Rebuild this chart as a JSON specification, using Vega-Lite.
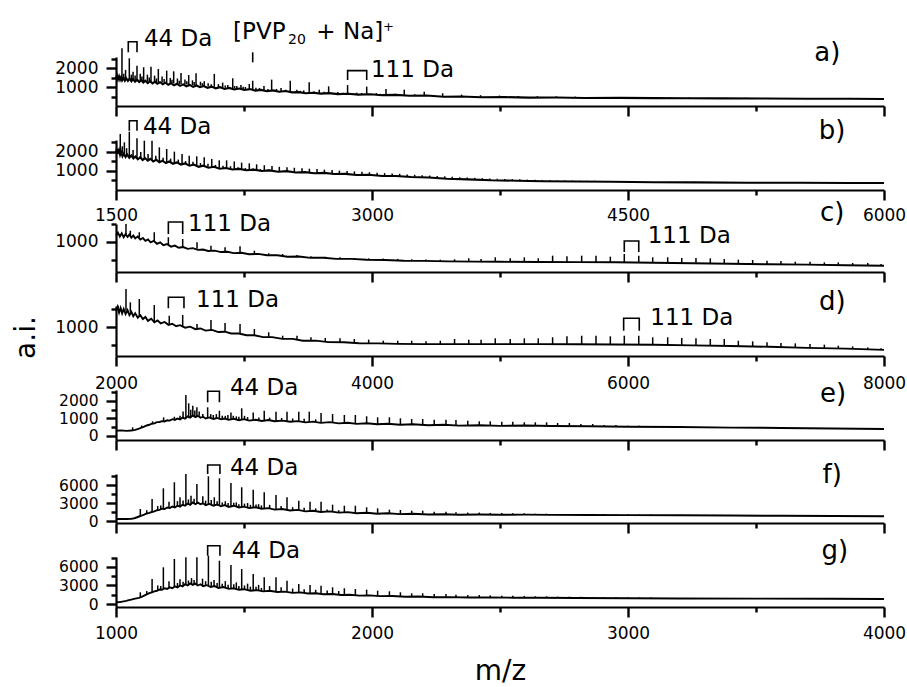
{
"$schema": "https://vega.github.io/schema/vega-lite/v6.json",
"padding": {"left": 12, "top": 20, "right": 0, "bottom": 0},
"background": "white",
"spacing": 34,
"bounds": "flush",
"config": {
  "view": {"stroke": null},
  "axis": {"domainColor": "black", "domainWidth": 2.2, "tickColor": "black", "tickWidth": 2.4, "labelColor": "black", "labelFont": "DejaVu Sans", "labelFontSize": 17, "grid": false, "titleFont": "DejaVu Sans", "titleFontWeight": "normal", "titleColor": "black", "labelOverlap": false, "labelFlush": false, "labelBound": false, "format": "d"},
  "text": {"font": "DejaVu Sans", "color": "black"}
},
"datasets": {
"base": [
{"p":"a","m":1500,"i":1480},{"p":"a","m":1506,"i":1600},{"p":"a","m":1512,"i":1400},{"p":"a","m":1518,"i":1560},{"p":"a","m":1524,"i":1380},{"p":"a","m":1530,"i":1520},{"p":"a","m":1536,"i":1350},{"p":"a","m":1544,"i":1480},{"p":"a","m":1552,"i":1330},{"p":"a","m":1560,"i":1460},{"p":"a","m":1570,"i":1320},{"p":"a","m":1580,"i":1440},{"p":"a","m":1590,"i":1300},{"p":"a","m":1600,"i":1410},{"p":"a","m":1612,"i":1280},{"p":"a","m":1624,"i":1380},{"p":"a","m":1636,"i":1260},{"p":"a","m":1648,"i":1360},{"p":"a","m":1660,"i":1240},{"p":"a","m":1672,"i":1330},{"p":"a","m":1686,"i":1210},{"p":"a","m":1700,"i":1310},{"p":"a","m":1714,"i":1190},{"p":"a","m":1728,"i":1280},{"p":"a","m":1742,"i":1170},{"p":"a","m":1758,"i":1250},{"p":"a","m":1774,"i":1150},{"p":"a","m":1790,"i":1230},{"p":"a","m":1806,"i":1120},{"p":"a","m":1822,"i":1200},{"p":"a","m":1840,"i":1090},{"p":"a","m":1858,"i":1170},{"p":"a","m":1876,"i":1060},{"p":"a","m":1894,"i":1140},{"p":"a","m":1912,"i":1040},{"p":"a","m":1932,"i":1110},{"p":"a","m":1952,"i":1010},{"p":"a","m":1972,"i":1080},{"p":"a","m":1992,"i":990},{"p":"a","m":2014,"i":1050},{"p":"a","m":2036,"i":960},{"p":"a","m":2060,"i":1020},{"p":"a","m":2084,"i":930},{"p":"a","m":2110,"i":990},{"p":"a","m":2136,"i":900},{"p":"a","m":2164,"i":950},{"p":"a","m":2192,"i":870},{"p":"a","m":2222,"i":920},{"p":"a","m":2252,"i":840},{"p":"a","m":2284,"i":890},{"p":"a","m":2316,"i":810},{"p":"a","m":2350,"i":850},{"p":"a","m":2384,"i":780},{"p":"a","m":2420,"i":820},{"p":"a","m":2456,"i":750},{"p":"a","m":2494,"i":790},{"p":"a","m":2532,"i":720},{"p":"a","m":2572,"i":730},{"p":"a","m":2612,"i":670},{"p":"a","m":2654,"i":700},{"p":"a","m":2700,"i":650},{"p":"a","m":2750,"i":680},{"p":"a","m":2800,"i":625},{"p":"a","m":2860,"i":645},{"p":"a","m":2920,"i":600},{"p":"a","m":2990,"i":615},{"p":"a","m":3060,"i":570},{"p":"a","m":3140,"i":585},{"p":"a","m":3220,"i":540},{"p":"a","m":3320,"i":550},{"p":"a","m":3420,"i":490},{"p":"a","m":3520,"i":500},{"p":"a","m":3640,"i":460},{"p":"a","m":3780,"i":470},{"p":"a","m":3920,"i":440},{"p":"a","m":4080,"i":445},{"p":"a","m":4250,"i":425},{"p":"a","m":4450,"i":430},{"p":"a","m":4650,"i":415},{"p":"a","m":4850,"i":410},{"p":"a","m":5050,"i":400},{"p":"a","m":5300,"i":395},{"p":"a","m":5550,"i":385},{"p":"a","m":5800,"i":378},{"p":"a","m":6000,"i":370},

{"p":"b","m":1500,"i":2000},{"p":"b","m":1506,"i":2180},{"p":"b","m":1512,"i":1900},{"p":"b","m":1518,"i":2080},{"p":"b","m":1524,"i":1850},{"p":"b","m":1530,"i":2000},{"p":"b","m":1538,"i":1780},{"p":"b","m":1546,"i":1920},{"p":"b","m":1556,"i":1740},{"p":"b","m":1566,"i":1860},{"p":"b","m":1578,"i":1700},{"p":"b","m":1590,"i":1820},{"p":"b","m":1602,"i":1660},{"p":"b","m":1614,"i":1760},{"p":"b","m":1628,"i":1620},{"p":"b","m":1642,"i":1720},{"p":"b","m":1656,"i":1580},{"p":"b","m":1670,"i":1680},{"p":"b","m":1686,"i":1540},{"p":"b","m":1702,"i":1640},{"p":"b","m":1718,"i":1500},{"p":"b","m":1736,"i":1590},{"p":"b","m":1754,"i":1460},{"p":"b","m":1772,"i":1540},{"p":"b","m":1792,"i":1420},{"p":"b","m":1812,"i":1500},{"p":"b","m":1834,"i":1380},{"p":"b","m":1856,"i":1450},{"p":"b","m":1880,"i":1340},{"p":"b","m":1904,"i":1400},{"p":"b","m":1930,"i":1280},{"p":"b","m":1956,"i":1340},{"p":"b","m":1984,"i":1220},{"p":"b","m":2012,"i":1280},{"p":"b","m":2042,"i":1170},{"p":"b","m":2074,"i":1220},{"p":"b","m":2108,"i":1120},{"p":"b","m":2144,"i":1160},{"p":"b","m":2182,"i":1080},{"p":"b","m":2222,"i":1110},{"p":"b","m":2264,"i":1040},{"p":"b","m":2308,"i":1070},{"p":"b","m":2354,"i":1000},{"p":"b","m":2400,"i":1030},{"p":"b","m":2450,"i":960},{"p":"b","m":2500,"i":990},{"p":"b","m":2552,"i":920},{"p":"b","m":2606,"i":940},{"p":"b","m":2662,"i":880},{"p":"b","m":2720,"i":900},{"p":"b","m":2780,"i":840},{"p":"b","m":2844,"i":850},{"p":"b","m":2910,"i":790},{"p":"b","m":2980,"i":800},{"p":"b","m":3060,"i":740},{"p":"b","m":3140,"i":740},{"p":"b","m":3230,"i":680},{"p":"b","m":3330,"i":660},{"p":"b","m":3440,"i":590},{"p":"b","m":3560,"i":560},{"p":"b","m":3700,"i":510},{"p":"b","m":3850,"i":490},{"p":"b","m":4000,"i":460},{"p":"b","m":4200,"i":445},{"p":"b","m":4400,"i":430},{"p":"b","m":4650,"i":410},{"p":"b","m":4900,"i":400},{"p":"b","m":5200,"i":385},{"p":"b","m":5500,"i":378},{"p":"b","m":5800,"i":372},{"p":"b","m":6000,"i":368},

{"p":"c","m":2000,"i":1180},{"p":"c","m":2015,"i":1260},{"p":"c","m":2030,"i":1150},{"p":"c","m":2045,"i":1240},{"p":"c","m":2060,"i":1130},{"p":"c","m":2075,"i":1220},{"p":"c","m":2090,"i":1140},{"p":"c","m":2105,"i":1210},{"p":"c","m":2120,"i":1120},{"p":"c","m":2135,"i":1180},{"p":"c","m":2150,"i":1100},{"p":"c","m":2170,"i":1150},{"p":"c","m":2190,"i":1070},{"p":"c","m":2210,"i":1110},{"p":"c","m":2230,"i":1030},{"p":"c","m":2250,"i":1070},{"p":"c","m":2270,"i":990},{"p":"c","m":2295,"i":1030},{"p":"c","m":2320,"i":950},{"p":"c","m":2345,"i":990},{"p":"c","m":2370,"i":910},{"p":"c","m":2400,"i":940},{"p":"c","m":2430,"i":870},{"p":"c","m":2460,"i":900},{"p":"c","m":2490,"i":840},{"p":"c","m":2525,"i":860},{"p":"c","m":2560,"i":810},{"p":"c","m":2600,"i":830},{"p":"c","m":2640,"i":780},{"p":"c","m":2680,"i":790},{"p":"c","m":2720,"i":750},{"p":"c","m":2770,"i":760},{"p":"c","m":2820,"i":720},{"p":"c","m":2870,"i":730},{"p":"c","m":2920,"i":690},{"p":"c","m":2980,"i":700},{"p":"c","m":3040,"i":660},{"p":"c","m":3110,"i":670},{"p":"c","m":3180,"i":630},{"p":"c","m":3260,"i":630},{"p":"c","m":3340,"i":590},{"p":"c","m":3430,"i":595},{"p":"c","m":3520,"i":560},{"p":"c","m":3620,"i":560},{"p":"c","m":3720,"i":530},{"p":"c","m":3840,"i":530},{"p":"c","m":3960,"i":505},{"p":"c","m":4100,"i":500},{"p":"c","m":4250,"i":480},{"p":"c","m":4400,"i":475},{"p":"c","m":4600,"i":460},{"p":"c","m":4800,"i":455},{"p":"c","m":5000,"i":450},{"p":"c","m":5300,"i":445},{"p":"c","m":5600,"i":440},{"p":"c","m":5900,"i":435},{"p":"c","m":6200,"i":425},{"p":"c","m":6500,"i":410},{"p":"c","m":6800,"i":395},{"p":"c","m":7100,"i":380},{"p":"c","m":7400,"i":370},{"p":"c","m":7700,"i":355},{"p":"c","m":8000,"i":340},

{"p":"d","m":2000,"i":1450},{"p":"d","m":2012,"i":1560},{"p":"d","m":2024,"i":1400},{"p":"d","m":2036,"i":1530},{"p":"d","m":2048,"i":1380},{"p":"d","m":2060,"i":1500},{"p":"d","m":2075,"i":1360},{"p":"d","m":2090,"i":1470},{"p":"d","m":2105,"i":1330},{"p":"d","m":2120,"i":1420},{"p":"d","m":2135,"i":1300},{"p":"d","m":2150,"i":1380},{"p":"d","m":2170,"i":1260},{"p":"d","m":2190,"i":1330},{"p":"d","m":2210,"i":1220},{"p":"d","m":2230,"i":1280},{"p":"d","m":2250,"i":1170},{"p":"d","m":2275,"i":1230},{"p":"d","m":2300,"i":1130},{"p":"d","m":2325,"i":1180},{"p":"d","m":2350,"i":1100},{"p":"d","m":2380,"i":1140},{"p":"d","m":2410,"i":1060},{"p":"d","m":2440,"i":1090},{"p":"d","m":2470,"i":1020},{"p":"d","m":2500,"i":1050},{"p":"d","m":2540,"i":980},{"p":"d","m":2580,"i":1010},{"p":"d","m":2620,"i":940},{"p":"d","m":2660,"i":960},{"p":"d","m":2700,"i":900},{"p":"d","m":2750,"i":920},{"p":"d","m":2800,"i":860},{"p":"d","m":2850,"i":870},{"p":"d","m":2900,"i":820},{"p":"d","m":2960,"i":820},{"p":"d","m":3020,"i":770},{"p":"d","m":3080,"i":770},{"p":"d","m":3150,"i":720},{"p":"d","m":3220,"i":720},{"p":"d","m":3300,"i":670},{"p":"d","m":3380,"i":670},{"p":"d","m":3460,"i":620},{"p":"d","m":3560,"i":620},{"p":"d","m":3660,"i":580},{"p":"d","m":3780,"i":575},{"p":"d","m":3900,"i":550},{"p":"d","m":4050,"i":545},{"p":"d","m":4200,"i":530},{"p":"d","m":4400,"i":525},{"p":"d","m":4600,"i":525},{"p":"d","m":4800,"i":525},{"p":"d","m":5000,"i":525},{"p":"d","m":5300,"i":525},{"p":"d","m":5600,"i":520},{"p":"d","m":5900,"i":515},{"p":"d","m":6200,"i":505},{"p":"d","m":6500,"i":490},{"p":"d","m":6800,"i":470},{"p":"d","m":7100,"i":450},{"p":"d","m":7400,"i":420},{"p":"d","m":7700,"i":400},{"p":"d","m":8000,"i":365},

{"p":"e","m":1000,"i":300},{"p":"e","m":1020,"i":320},{"p":"e","m":1040,"i":295},{"p":"e","m":1060,"i":310},{"p":"e","m":1075,"i":350},{"p":"e","m":1090,"i":420},{"p":"e","m":1100,"i":480},{"p":"e","m":1110,"i":530},{"p":"e","m":1120,"i":600},{"p":"e","m":1130,"i":640},{"p":"e","m":1140,"i":700},{"p":"e","m":1150,"i":720},{"p":"e","m":1160,"i":790},{"p":"e","m":1170,"i":800},{"p":"e","m":1180,"i":850},{"p":"e","m":1190,"i":830},{"p":"e","m":1200,"i":900},{"p":"e","m":1210,"i":880},{"p":"e","m":1220,"i":960},{"p":"e","m":1230,"i":920},{"p":"e","m":1240,"i":1000},{"p":"e","m":1250,"i":950},{"p":"e","m":1260,"i":1050},{"p":"e","m":1270,"i":990},{"p":"e","m":1280,"i":1120},{"p":"e","m":1290,"i":1050},{"p":"e","m":1300,"i":1180},{"p":"e","m":1310,"i":1080},{"p":"e","m":1320,"i":1150},{"p":"e","m":1330,"i":1040},{"p":"e","m":1340,"i":1100},{"p":"e","m":1350,"i":1000},{"p":"e","m":1365,"i":1060},{"p":"e","m":1380,"i":970},{"p":"e","m":1395,"i":1030},{"p":"e","m":1410,"i":950},{"p":"e","m":1425,"i":1000},{"p":"e","m":1440,"i":920},{"p":"e","m":1460,"i":980},{"p":"e","m":1480,"i":900},{"p":"e","m":1500,"i":960},{"p":"e","m":1520,"i":880},{"p":"e","m":1545,"i":930},{"p":"e","m":1570,"i":860},{"p":"e","m":1595,"i":910},{"p":"e","m":1620,"i":840},{"p":"e","m":1650,"i":880},{"p":"e","m":1680,"i":810},{"p":"e","m":1710,"i":850},{"p":"e","m":1740,"i":780},{"p":"e","m":1770,"i":820},{"p":"e","m":1800,"i":750},{"p":"e","m":1835,"i":790},{"p":"e","m":1870,"i":720},{"p":"e","m":1905,"i":760},{"p":"e","m":1940,"i":690},{"p":"e","m":1980,"i":730},{"p":"e","m":2020,"i":670},{"p":"e","m":2060,"i":700},{"p":"e","m":2110,"i":640},{"p":"e","m":2160,"i":670},{"p":"e","m":2220,"i":610},{"p":"e","m":2280,"i":640},{"p":"e","m":2340,"i":590},{"p":"e","m":2420,"i":610},{"p":"e","m":2500,"i":580},{"p":"e","m":2600,"i":595},{"p":"e","m":2700,"i":570},{"p":"e","m":2850,"i":560},{"p":"e","m":3000,"i":530},{"p":"e","m":3200,"i":510},{"p":"e","m":3400,"i":480},{"p":"e","m":3600,"i":460},{"p":"e","m":3800,"i":430},{"p":"e","m":4000,"i":400},

{"p":"f","m":1000,"i":330},{"p":"f","m":1020,"i":350},{"p":"f","m":1040,"i":330},{"p":"f","m":1060,"i":350},{"p":"f","m":1075,"i":500},{"p":"f","m":1090,"i":750},{"p":"f","m":1100,"i":900},{"p":"f","m":1110,"i":1050},{"p":"f","m":1120,"i":1250},{"p":"f","m":1130,"i":1350},{"p":"f","m":1140,"i":1500},{"p":"f","m":1150,"i":1600},{"p":"f","m":1160,"i":1800},{"p":"f","m":1170,"i":1850},{"p":"f","m":1180,"i":2050},{"p":"f","m":1190,"i":2000},{"p":"f","m":1200,"i":2250},{"p":"f","m":1210,"i":2150},{"p":"f","m":1220,"i":2400},{"p":"f","m":1230,"i":2250},{"p":"f","m":1240,"i":2550},{"p":"f","m":1250,"i":2400},{"p":"f","m":1260,"i":2700},{"p":"f","m":1270,"i":2550},{"p":"f","m":1280,"i":2900},{"p":"f","m":1290,"i":2700},{"p":"f","m":1300,"i":3100},{"p":"f","m":1310,"i":2800},{"p":"f","m":1320,"i":3050},{"p":"f","m":1330,"i":2800},{"p":"f","m":1340,"i":2950},{"p":"f","m":1350,"i":2650},{"p":"f","m":1365,"i":2850},{"p":"f","m":1380,"i":2550},{"p":"f","m":1395,"i":2750},{"p":"f","m":1410,"i":2450},{"p":"f","m":1425,"i":2650},{"p":"f","m":1440,"i":2350},{"p":"f","m":1460,"i":2550},{"p":"f","m":1480,"i":2250},{"p":"f","m":1500,"i":2400},{"p":"f","m":1520,"i":2150},{"p":"f","m":1545,"i":2300},{"p":"f","m":1570,"i":2050},{"p":"f","m":1595,"i":2150},{"p":"f","m":1620,"i":1900},{"p":"f","m":1650,"i":2000},{"p":"f","m":1680,"i":1750},{"p":"f","m":1710,"i":1850},{"p":"f","m":1740,"i":1600},{"p":"f","m":1770,"i":1700},{"p":"f","m":1800,"i":1500},{"p":"f","m":1835,"i":1600},{"p":"f","m":1870,"i":1400},{"p":"f","m":1905,"i":1480},{"p":"f","m":1940,"i":1300},{"p":"f","m":1980,"i":1380},{"p":"f","m":2020,"i":1220},{"p":"f","m":2060,"i":1280},{"p":"f","m":2110,"i":1150},{"p":"f","m":2160,"i":1200},{"p":"f","m":2220,"i":1080},{"p":"f","m":2280,"i":1120},{"p":"f","m":2340,"i":1050},{"p":"f","m":2420,"i":1080},{"p":"f","m":2500,"i":1040},{"p":"f","m":2600,"i":1060},{"p":"f","m":2700,"i":1020},{"p":"f","m":2850,"i":1010},{"p":"f","m":3000,"i":980},{"p":"f","m":3200,"i":950},{"p":"f","m":3400,"i":910},{"p":"f","m":3600,"i":870},{"p":"f","m":3800,"i":830},{"p":"f","m":4000,"i":790},

{"p":"g","m":1000,"i":280},{"p":"g","m":1015,"i":300},{"p":"g","m":1030,"i":420},{"p":"g","m":1040,"i":500},{"p":"g","m":1050,"i":620},{"p":"g","m":1060,"i":720},{"p":"g","m":1070,"i":820},{"p":"g","m":1080,"i":920},{"p":"g","m":1090,"i":1000},{"p":"g","m":1100,"i":1150},{"p":"g","m":1110,"i":1350},{"p":"g","m":1120,"i":1550},{"p":"g","m":1130,"i":1750},{"p":"g","m":1140,"i":1900},{"p":"g","m":1150,"i":2050},{"p":"g","m":1160,"i":2150},{"p":"g","m":1170,"i":2350},{"p":"g","m":1180,"i":2300},{"p":"g","m":1190,"i":2550},{"p":"g","m":1200,"i":2450},{"p":"g","m":1210,"i":2700},{"p":"g","m":1220,"i":2550},{"p":"g","m":1230,"i":2850},{"p":"g","m":1240,"i":2700},{"p":"g","m":1250,"i":3000},{"p":"g","m":1260,"i":2850},{"p":"g","m":1270,"i":3200},{"p":"g","m":1280,"i":3000},{"p":"g","m":1290,"i":3350},{"p":"g","m":1300,"i":3100},{"p":"g","m":1310,"i":3300},{"p":"g","m":1320,"i":3000},{"p":"g","m":1330,"i":3200},{"p":"g","m":1340,"i":2900},{"p":"g","m":1355,"i":3050},{"p":"g","m":1370,"i":2750},{"p":"g","m":1385,"i":2900},{"p":"g","m":1400,"i":2600},{"p":"g","m":1420,"i":2750},{"p":"g","m":1440,"i":2450},{"p":"g","m":1460,"i":2550},{"p":"g","m":1480,"i":2300},{"p":"g","m":1500,"i":2400},{"p":"g","m":1525,"i":2150},{"p":"g","m":1550,"i":2250},{"p":"g","m":1575,"i":2050},{"p":"g","m":1600,"i":2150},{"p":"g","m":1630,"i":1950},{"p":"g","m":1660,"i":2000},{"p":"g","m":1690,"i":1800},{"p":"g","m":1720,"i":1880},{"p":"g","m":1750,"i":1700},{"p":"g","m":1780,"i":1750},{"p":"g","m":1810,"i":1580},{"p":"g","m":1845,"i":1620},{"p":"g","m":1880,"i":1460},{"p":"g","m":1915,"i":1500},{"p":"g","m":1950,"i":1350},{"p":"g","m":1990,"i":1400},{"p":"g","m":2030,"i":1270},{"p":"g","m":2080,"i":1300},{"p":"g","m":2130,"i":1180},{"p":"g","m":2180,"i":1210},{"p":"g","m":2240,"i":1100},{"p":"g","m":2300,"i":1120},{"p":"g","m":2380,"i":1060},{"p":"g","m":2460,"i":1080},{"p":"g","m":2550,"i":1020},{"p":"g","m":2650,"i":1010},{"p":"g","m":2800,"i":970},{"p":"g","m":3000,"i":930},{"p":"g","m":3200,"i":900},{"p":"g","m":3500,"i":870},{"p":"g","m":3800,"i":840},{"p":"g","m":4000,"i":810}
],
"peaks": [
{"p":"a","m":1535,"b":1420,"t":3040},{"p":"a","m":1556,"b":1400,"t":1900},{"p":"a","m":1578,"b":1380,"t":2510},{"p":"a","m":1600,"b":1370,"t":1800},{"p":"a","m":1623,"b":1340,"t":2120},{"p":"a","m":1642,"b":1330,"t":1700},{"p":"a","m":1662,"b":1310,"t":2040},{"p":"a","m":1684,"b":1290,"t":1650},{"p":"a","m":1705,"b":1290,"t":2070},{"p":"a","m":1726,"b":1270,"t":1600},{"p":"a","m":1748,"b":1250,"t":1950},{"p":"a","m":1770,"b":1240,"t":1550},{"p":"a","m":1797,"b":1220,"t":1860},{"p":"a","m":1818,"b":1200,"t":1480},{"p":"a","m":1838,"b":1190,"t":1825},{"p":"a","m":1860,"b":1170,"t":1450},{"p":"a","m":1881,"b":1160,"t":1740},{"p":"a","m":1904,"b":1140,"t":1400},{"p":"a","m":1926,"b":1120,"t":1630},{"p":"a","m":1948,"b":1100,"t":1350},{"p":"a","m":1969,"b":1090,"t":1720},{"p":"a","m":1995,"b":1070,"t":1280},{"p":"a","m":2017,"b":1050,"t":1300},{"p":"a","m":2040,"b":1040,"t":1200},{"p":"a","m":2076,"b":1010,"t":1690},{"p":"a","m":2100,"b":990,"t":1150},{"p":"a","m":2125,"b":970,"t":1230},{"p":"a","m":2155,"b":950,"t":1100},{"p":"a","m":2184,"b":930,"t":1460},{"p":"a","m":2208,"b":910,"t":1050},{"p":"a","m":2232,"b":900,"t":1100},{"p":"a","m":2258,"b":880,"t":1000},{"p":"a","m":2281,"b":860,"t":1160},{"p":"a","m":2301,"b":850,"t":1330},{"p":"a","m":2340,"b":830,"t":950},{"p":"a","m":2367,"b":810,"t":1050},{"p":"a","m":2412,"b":790,"t":1390},{"p":"a","m":2440,"b":770,"t":900},{"p":"a","m":2467,"b":760,"t":950},{"p":"a","m":2521,"b":730,"t":1330},{"p":"a","m":2560,"b":720,"t":850},{"p":"a","m":2600,"b":700,"t":820},{"p":"a","m":2632,"b":690,"t":1250},{"p":"a","m":2660,"b":680,"t":780},{"p":"a","m":2691,"b":670,"t":860},{"p":"a","m":2746,"b":650,"t":1035},{"p":"a","m":2800,"b":640,"t":740},{"p":"a","m":2857,"b":630,"t":1100},{"p":"a","m":2910,"b":620,"t":700},{"p":"a","m":2969,"b":610,"t":1020},{"p":"a","m":3025,"b":590,"t":680},{"p":"a","m":3082,"b":580,"t":895},{"p":"a","m":3135,"b":570,"t":650},{"p":"a","m":3189,"b":560,"t":860},{"p":"a","m":3250,"b":545,"t":620},{"p":"a","m":3306,"b":530,"t":750},{"p":"a","m":3360,"b":515,"t":580},{"p":"a","m":3414,"b":500,"t":670},{"p":"a","m":3525,"b":480,"t":600},{"p":"a","m":3636,"b":465,"t":570},{"p":"a","m":3747,"b":455,"t":550},{"p":"a","m":3858,"b":448,"t":530},{"p":"a","m":3969,"b":442,"t":520},{"p":"a","m":4080,"b":440,"t":505},{"p":"a","m":4191,"b":435,"t":495},{"p":"a","m":4302,"b":430,"t":480},{"p":"a","m":4413,"b":428,"t":475},{"p":"a","m":4524,"b":425,"t":468},{"p":"a","m":4635,"b":418,"t":460},{"p":"a","m":4746,"b":415,"t":455},{"p":"a","m":4857,"b":412,"t":448},{"p":"a","m":4968,"b":408,"t":440},{"p":"a","m":5079,"b":404,"t":436},{"p":"a","m":5190,"b":400,"t":430},{"p":"a","m":5301,"b":396,"t":425},{"p":"a","m":5412,"b":392,"t":420},
{"p":"a","m":1545,"b":1400,"t":1700},{"p":"a","m":1590,"b":1360,"t":1650},{"p":"a","m":1612,"b":1350,"t":1600},{"p":"a","m":1652,"b":1320,"t":1550},{"p":"a","m":1695,"b":1290,"t":1500},{"p":"a","m":1737,"b":1260,"t":1450},{"p":"a","m":1782,"b":1230,"t":1420},{"p":"a","m":1828,"b":1195,"t":1380},{"p":"a","m":1871,"b":1165,"t":1330},{"p":"a","m":1915,"b":1130,"t":1300},{"p":"a","m":1958,"b":1095,"t":1270},{"p":"a","m":2006,"b":1060,"t":1200},{"p":"a","m":2058,"b":1025,"t":1150},{"p":"a","m":2140,"b":960,"t":1080},{"p":"a","m":2195,"b":920,"t":1050},{"p":"a","m":2245,"b":890,"t":1010},{"p":"a","m":2320,"b":840,"t":960},{"p":"a","m":2390,"b":800,"t":900},{"p":"a","m":2495,"b":745,"t":850},{"p":"a","m":2580,"b":710,"t":800},{"p":"a","m":2720,"b":660,"t":750},{"p":"a","m":2830,"b":635,"t":700},{"p":"a","m":2940,"b":615,"t":680},{"p":"a","m":3050,"b":585,"t":640},

{"p":"b","m":1525,"b":2000,"t":2946},{"p":"b","m":1549,"b":1900,"t":2507},{"p":"b","m":1578,"b":1760,"t":3067},{"p":"b","m":1623,"b":1690,"t":2718},{"p":"b","m":1666,"b":1630,"t":2595},{"p":"b","m":1711,"b":1570,"t":2595},{"p":"b","m":1754,"b":1500,"t":2244},{"p":"b","m":1797,"b":1460,"t":2157},{"p":"b","m":1842,"b":1420,"t":2016},{"p":"b","m":1887,"b":1380,"t":1894},{"p":"b","m":1929,"b":1320,"t":1806},{"p":"b","m":1973,"b":1290,"t":1771},{"p":"b","m":2017,"b":1250,"t":1718},{"p":"b","m":2061,"b":1200,"t":1631},{"p":"b","m":2105,"b":1160,"t":1560},{"p":"b","m":2148,"b":1130,"t":1560},{"p":"b","m":2193,"b":1100,"t":1500},{"p":"b","m":2236,"b":1080,"t":1440},{"p":"b","m":2281,"b":1060,"t":1400},{"p":"b","m":2324,"b":1040,"t":1350},{"p":"b","m":2369,"b":1020,"t":1300},{"p":"b","m":2414,"b":1000,"t":1260},{"p":"b","m":2457,"b":980,"t":1220},{"p":"b","m":2502,"b":970,"t":1200},{"p":"b","m":2545,"b":950,"t":1170},{"p":"b","m":2590,"b":935,"t":1150},{"p":"b","m":2633,"b":920,"t":1120},{"p":"b","m":2678,"b":900,"t":1100},{"p":"b","m":2721,"b":885,"t":1070},{"p":"b","m":2766,"b":870,"t":1050},{"p":"b","m":2809,"b":855,"t":1020},{"p":"b","m":2854,"b":840,"t":1000},{"p":"b","m":2897,"b":825,"t":980},{"p":"b","m":2941,"b":810,"t":960},{"p":"b","m":2985,"b":795,"t":930},{"p":"b","m":3030,"b":780,"t":910},{"p":"b","m":3074,"b":765,"t":890},{"p":"b","m":3118,"b":750,"t":870},{"p":"b","m":3162,"b":735,"t":850},{"p":"b","m":3206,"b":720,"t":820},{"p":"b","m":3250,"b":700,"t":800},{"p":"b","m":3294,"b":690,"t":780},{"p":"b","m":3338,"b":670,"t":760},{"p":"b","m":3382,"b":655,"t":740},{"p":"b","m":3426,"b":640,"t":720},{"p":"b","m":3470,"b":620,"t":700},{"p":"b","m":3514,"b":600,"t":670},{"p":"b","m":3558,"b":590,"t":655},{"p":"b","m":3602,"b":575,"t":640},{"p":"b","m":3646,"b":560,"t":620},{"p":"b","m":3690,"b":550,"t":610},{"p":"b","m":3734,"b":540,"t":595},{"p":"b","m":3778,"b":530,"t":585},{"p":"b","m":3822,"b":520,"t":570},{"p":"b","m":3866,"b":510,"t":560},{"p":"b","m":3910,"b":500,"t":545},{"p":"b","m":3954,"b":490,"t":535},{"p":"b","m":3998,"b":480,"t":525},{"p":"b","m":4042,"b":475,"t":515},{"p":"b","m":4086,"b":470,"t":505},{"p":"b","m":4130,"b":465,"t":500},{"p":"b","m":4174,"b":460,"t":495},{"p":"b","m":4218,"b":455,"t":490},{"p":"b","m":4262,"b":450,"t":485},{"p":"b","m":4306,"b":448,"t":480},
{"p":"b","m":1537,"b":1950,"t":2300},{"p":"b","m":1562,"b":1850,"t":2200},{"p":"b","m":1600,"b":1720,"t":2100},{"p":"b","m":1645,"b":1660,"t":2000},{"p":"b","m":1688,"b":1600,"t":1900},{"p":"b","m":1733,"b":1540,"t":1800},{"p":"b","m":1776,"b":1480,"t":1700},{"p":"b","m":1820,"b":1440,"t":1650},{"p":"b","m":1865,"b":1400,"t":1600},{"p":"b","m":1908,"b":1350,"t":1520},{"p":"b","m":1951,"b":1305,"t":1480},{"p":"b","m":1995,"b":1270,"t":1420},{"p":"b","m":2039,"b":1225,"t":1380},{"p":"b","m":2083,"b":1180,"t":1320},{"p":"b","m":2127,"b":1145,"t":1280},{"p":"b","m":2171,"b":1115,"t":1250},{"p":"b","m":2215,"b":1090,"t":1200},{"p":"b","m":2258,"b":1070,"t":1160},{"p":"b","m":2303,"b":1050,"t":1130},{"p":"b","m":2346,"b":1030,"t":1100},{"p":"b","m":2391,"b":1010,"t":1080},

{"p":"c","m":2078,"b":1180,"t":1500},{"p":"c","m":2112,"b":1170,"t":1314},{"p":"c","m":2182,"b":1130,"t":1270},{"p":"c","m":2299,"b":1010,"t":1270},{"p":"c","m":2409,"b":925,"t":1131},{"p":"c","m":2521,"b":860,"t":1084},{"p":"c","m":2633,"b":815,"t":992},{"p":"c","m":2742,"b":770,"t":897},{"p":"c","m":2852,"b":740,"t":853},{"p":"c","m":2969,"b":705,"t":880},{"p":"c","m":3081,"b":670,"t":758},{"p":"c","m":3193,"b":640,"t":686},{"p":"c","m":3302,"b":615,"t":666},{"p":"c","m":3414,"b":590,"t":639},{"p":"c","m":3523,"b":565,"t":602},{"p":"c","m":3635,"b":555,"t":590},{"p":"c","m":3750,"b":535,"t":575},{"p":"c","m":3862,"b":525,"t":555},{"p":"c","m":3974,"b":510,"t":545},{"p":"c","m":4088,"b":500,"t":540},{"p":"c","m":4201,"b":490,"t":530},{"p":"c","m":4310,"b":482,"t":520},{"p":"c","m":4422,"b":478,"t":512},{"p":"c","m":4534,"b":472,"t":508},{"p":"c","m":4645,"b":462,"t":520},{"p":"c","m":4756,"b":460,"t":547},{"p":"c","m":4852,"b":458,"t":527},{"p":"c","m":4963,"b":455,"t":574},{"p":"c","m":5080,"b":452,"t":547},{"p":"c","m":5190,"b":450,"t":574},{"p":"c","m":5299,"b":447,"t":547},{"p":"c","m":5411,"b":445,"t":620},{"p":"c","m":5523,"b":443,"t":602},{"p":"c","m":5638,"b":441,"t":620},{"p":"c","m":5750,"b":440,"t":620},{"p":"c","m":5862,"b":438,"t":592},{"p":"c","m":5971,"b":436,"t":666},{"p":"c","m":6084,"b":432,"t":620},{"p":"c","m":6193,"b":428,"t":574},{"p":"c","m":6310,"b":423,"t":574},{"p":"c","m":6420,"b":418,"t":556},{"p":"c","m":6531,"b":413,"t":555},{"p":"c","m":6643,"b":408,"t":547},{"p":"c","m":6752,"b":402,"t":527},{"p":"c","m":6862,"b":397,"t":509},{"p":"c","m":6974,"b":392,"t":500},{"p":"c","m":7086,"b":388,"t":480},{"p":"c","m":7195,"b":384,"t":472},{"p":"c","m":7307,"b":379,"t":452},{"p":"c","m":7422,"b":375,"t":452},{"p":"c","m":7534,"b":370,"t":434},{"p":"c","m":7643,"b":365,"t":434},{"p":"c","m":7755,"b":360,"t":416},{"p":"c","m":7873,"b":350,"t":416},{"p":"c","m":7977,"b":342,"t":388},

{"p":"d","m":2018,"b":1500,"t":1592},{"p":"d","m":2078,"b":1450,"t":2057},{"p":"d","m":2112,"b":1420,"t":1687},{"p":"d","m":2182,"b":1300,"t":1779},{"p":"d","m":2299,"b":1150,"t":1612},{"p":"d","m":2416,"b":1070,"t":1314},{"p":"d","m":2521,"b":1030,"t":1334},{"p":"d","m":2633,"b":950,"t":1084},{"p":"d","m":2742,"b":900,"t":1195},{"p":"d","m":2852,"b":860,"t":1111},{"p":"d","m":2969,"b":810,"t":1084},{"p":"d","m":3081,"b":765,"t":945},{"p":"d","m":3193,"b":725,"t":853},{"p":"d","m":3302,"b":690,"t":758},{"p":"d","m":3414,"b":650,"t":758},{"p":"d","m":3523,"b":615,"t":714},{"p":"d","m":3635,"b":595,"t":695},{"p":"d","m":3750,"b":575,"t":686},{"p":"d","m":3862,"b":560,"t":667},{"p":"d","m":3974,"b":550,"t":649},{"p":"d","m":4088,"b":545,"t":619},{"p":"d","m":4201,"b":535,"t":619},{"p":"d","m":4310,"b":528,"t":619},{"p":"d","m":4422,"b":525,"t":602},{"p":"d","m":4534,"b":525,"t":619},{"p":"d","m":4645,"b":525,"t":667},{"p":"d","m":4756,"b":525,"t":649},{"p":"d","m":4852,"b":525,"t":649},{"p":"d","m":4963,"b":525,"t":686},{"p":"d","m":5080,"b":525,"t":667},{"p":"d","m":5190,"b":525,"t":686},{"p":"d","m":5299,"b":525,"t":686},{"p":"d","m":5411,"b":525,"t":714},{"p":"d","m":5523,"b":524,"t":741},{"p":"d","m":5638,"b":522,"t":758},{"p":"d","m":5750,"b":520,"t":758},{"p":"d","m":5862,"b":518,"t":741},{"p":"d","m":5971,"b":515,"t":758},{"p":"d","m":6084,"b":512,"t":758},{"p":"d","m":6193,"b":508,"t":714},{"p":"d","m":6310,"b":502,"t":714},{"p":"d","m":6420,"b":497,"t":695},{"p":"d","m":6531,"b":490,"t":686},{"p":"d","m":6643,"b":483,"t":667},{"p":"d","m":6752,"b":477,"t":667},{"p":"d","m":6862,"b":470,"t":619},{"p":"d","m":6974,"b":462,"t":602},{"p":"d","m":7086,"b":455,"t":575},{"p":"d","m":7195,"b":447,"t":555},{"p":"d","m":7307,"b":438,"t":546},{"p":"d","m":7422,"b":425,"t":528},{"p":"d","m":7534,"b":415,"t":509},{"p":"d","m":7643,"b":407,"t":480},{"p":"d","m":7755,"b":398,"t":462},{"p":"d","m":7873,"b":385,"t":433},{"p":"d","m":7977,"b":370,"t":407},

{"p":"e","m":1065,"b":320,"t":496},{"p":"e","m":1100,"b":480,"t":600},{"p":"e","m":1143,"b":700,"t":839},{"p":"e","m":1186,"b":840,"t":1067},{"p":"e","m":1228,"b":940,"t":1100},{"p":"e","m":1250,"b":960,"t":1150},{"p":"e","m":1273,"b":1000,"t":2341},{"p":"e","m":1284,"b":1020,"t":1867},{"p":"e","m":1300,"b":1100,"t":1730},{"p":"e","m":1316,"b":1100,"t":1638},{"p":"e","m":1339,"b":1060,"t":1256},{"p":"e","m":1358,"b":1040,"t":1638},{"p":"e","m":1380,"b":990,"t":1200},{"p":"e","m":1404,"b":980,"t":1444},{"p":"e","m":1427,"b":960,"t":1150},{"p":"e","m":1449,"b":950,"t":1347},{"p":"e","m":1470,"b":940,"t":1120},{"p":"e","m":1491,"b":930,"t":1581},{"p":"e","m":1514,"b":920,"t":1080},{"p":"e","m":1536,"b":910,"t":1347},{"p":"e","m":1558,"b":900,"t":1050},{"p":"e","m":1579,"b":890,"t":1444},{"p":"e","m":1625,"b":870,"t":1387},{"p":"e","m":1668,"b":850,"t":1387},{"p":"e","m":1714,"b":830,"t":1387},{"p":"e","m":1755,"b":810,"t":1387},{"p":"e","m":1801,"b":780,"t":1313},{"p":"e","m":1846,"b":760,"t":1256},{"p":"e","m":1892,"b":740,"t":1198},{"p":"e","m":1935,"b":720,"t":1198},{"p":"e","m":1979,"b":700,"t":1124},{"p":"e","m":2022,"b":690,"t":1067},{"p":"e","m":2068,"b":680,"t":1067},{"p":"e","m":2111,"b":665,"t":1010},{"p":"e","m":2155,"b":650,"t":970},{"p":"e","m":2198,"b":640,"t":970},{"p":"e","m":2243,"b":630,"t":930},{"p":"e","m":2289,"b":620,"t":930},{"p":"e","m":2328,"b":615,"t":913},{"p":"e","m":2374,"b":610,"t":873},{"p":"e","m":2419,"b":605,"t":839},{"p":"e","m":2462,"b":600,"t":839},{"p":"e","m":2507,"b":595,"t":816},{"p":"e","m":2550,"b":592,"t":816},{"p":"e","m":2595,"b":590,"t":782},{"p":"e","m":2638,"b":588,"t":782},{"p":"e","m":2682,"b":582,"t":782},{"p":"e","m":2725,"b":578,"t":742},{"p":"e","m":2771,"b":572,"t":742},{"p":"e","m":2816,"b":568,"t":685},{"p":"e","m":2862,"b":565,"t":685},{"p":"e","m":2907,"b":560,"t":628},{"p":"e","m":2953,"b":555,"t":628},{"p":"e","m":2999,"b":550,"t":588},{"p":"e","m":3044,"b":545,"t":588},{"p":"e","m":3090,"b":540,"t":553},{"p":"e","m":3135,"b":535,"t":560},{"p":"e","m":3180,"b":530,"t":555},
{"p":"e","m":1262,"b":1050,"t":1400},{"p":"e","m":1292,"b":1050,"t":1500},{"p":"e","m":1308,"b":1080,"t":1450},{"p":"e","m":1325,"b":1150,"t":1400},{"p":"e","m":1370,"b":1000,"t":1250},{"p":"e","m":1392,"b":1030,"t":1250},{"p":"e","m":1415,"b":950,"t":1150},{"p":"e","m":1437,"b":920,"t":1200},{"p":"e","m":1458,"b":980,"t":1150},{"p":"e","m":1480,"b":900,"t":1100},{"p":"e","m":1502,"b":960,"t":1150},{"p":"e","m":1600,"b":880,"t":1050},{"p":"e","m":1647,"b":860,"t":1030},{"p":"e","m":1690,"b":840,"t":1000},{"p":"e","m":1735,"b":800,"t":980},{"p":"e","m":1780,"b":800,"t":950},

{"p":"f","m":1095,"b":850,"t":2001},{"p":"f","m":1141,"b":1500,"t":3668},{"p":"f","m":1163,"b":1750,"t":2500},{"p":"f","m":1185,"b":2000,"t":5451},{"p":"f","m":1207,"b":2200,"t":3200},{"p":"f","m":1228,"b":2300,"t":6452},{"p":"f","m":1250,"b":2450,"t":3951},{"p":"f","m":1273,"b":2650,"t":7835},{"p":"f","m":1293,"b":2800,"t":4218},{"p":"f","m":1316,"b":2950,"t":6168},{"p":"f","m":1339,"b":2900,"t":4118},{"p":"f","m":1361,"b":2800,"t":7452},{"p":"f","m":1384,"b":2650,"t":3951},{"p":"f","m":1404,"b":2600,"t":7118},{"p":"f","m":1427,"b":2500,"t":3300},{"p":"f","m":1449,"b":2450,"t":6335},{"p":"f","m":1470,"b":2350,"t":3100},{"p":"f","m":1491,"b":2300,"t":5618},{"p":"f","m":1514,"b":2250,"t":3000},{"p":"f","m":1536,"b":2200,"t":5218},{"p":"f","m":1557,"b":2150,"t":2800},{"p":"f","m":1579,"b":2100,"t":4785},{"p":"f","m":1600,"b":2000,"t":2700},{"p":"f","m":1625,"b":1950,"t":4335},{"p":"f","m":1645,"b":1900,"t":2500},{"p":"f","m":1668,"b":1850,"t":3951},{"p":"f","m":1690,"b":1800,"t":2300},{"p":"f","m":1714,"b":1750,"t":3385},{"p":"f","m":1735,"b":1700,"t":2200},{"p":"f","m":1758,"b":1650,"t":3218},{"p":"f","m":1780,"b":1600,"t":2100},{"p":"f","m":1801,"b":1560,"t":3218},{"p":"f","m":1825,"b":1520,"t":1900},{"p":"f","m":1846,"b":1500,"t":2718},{"p":"f","m":1870,"b":1450,"t":1800},{"p":"f","m":1892,"b":1420,"t":2551},{"p":"f","m":1935,"b":1350,"t":2551},{"p":"f","m":1979,"b":1300,"t":2284},{"p":"f","m":2022,"b":1250,"t":2117},{"p":"f","m":2068,"b":1220,"t":1884},{"p":"f","m":2111,"b":1180,"t":1834},{"p":"f","m":2155,"b":1150,"t":1717},{"p":"f","m":2198,"b":1120,"t":1717},{"p":"f","m":2243,"b":1100,"t":1551},{"p":"f","m":2289,"b":1080,"t":1551},{"p":"f","m":2328,"b":1070,"t":1451},{"p":"f","m":2374,"b":1065,"t":1401},{"p":"f","m":2419,"b":1060,"t":1401},{"p":"f","m":2462,"b":1055,"t":1334},{"p":"f","m":2507,"b":1050,"t":1334},{"p":"f","m":2550,"b":1045,"t":1284},{"p":"f","m":2595,"b":1042,"t":1284},{"p":"f","m":2638,"b":1040,"t":1217},{"p":"f","m":2682,"b":1035,"t":1217},{"p":"f","m":2725,"b":1030,"t":1167},{"p":"f","m":2771,"b":1025,"t":1150},{"p":"f","m":2816,"b":1020,"t":1167},{"p":"f","m":2862,"b":1015,"t":1130},{"p":"f","m":2907,"b":1010,"t":1117},{"p":"f","m":2953,"b":1000,"t":1100},{"p":"f","m":2999,"b":990,"t":1117},{"p":"f","m":3044,"b":985,"t":1080},{"p":"f","m":3090,"b":980,"t":1070},
{"p":"f","m":1120,"b":1250,"t":1800},{"p":"f","m":1175,"b":1900,"t":2600},{"p":"f","m":1240,"b":2550,"t":3300},{"p":"f","m":1262,"b":2650,"t":3400},{"p":"f","m":1283,"b":2800,"t":3600},{"p":"f","m":1305,"b":3000,"t":3700},{"p":"f","m":1350,"b":2700,"t":3400},{"p":"f","m":1372,"b":2650,"t":3500},{"p":"f","m":1395,"b":2700,"t":3300},{"p":"f","m":1415,"b":2500,"t":3100},{"p":"f","m":1438,"b":2400,"t":3000},{"p":"f","m":1460,"b":2500,"t":3050},{"p":"f","m":1480,"b":2250,"t":2800},{"p":"f","m":1502,"b":2350,"t":2900},{"p":"f","m":1525,"b":2150,"t":2700},{"p":"f","m":1547,"b":2250,"t":2750},{"p":"f","m":1568,"b":2050,"t":2600},

{"p":"g","m":1095,"b":1100,"t":1895},{"p":"g","m":1141,"b":1900,"t":4050},{"p":"g","m":1163,"b":2200,"t":3000},{"p":"g","m":1185,"b":2400,"t":5946},{"p":"g","m":1207,"b":2600,"t":3700},{"p":"g","m":1228,"b":2750,"t":7290},{"p":"g","m":1250,"b":2900,"t":4000},{"p":"g","m":1273,"b":3050,"t":7565},{"p":"g","m":1295,"b":3200,"t":4200},{"p":"g","m":1316,"b":3200,"t":7565},{"p":"g","m":1338,"b":3050,"t":4100},{"p":"g","m":1361,"b":2950,"t":7825},{"p":"g","m":1383,"b":2850,"t":3900},{"p":"g","m":1404,"b":2700,"t":7015},{"p":"g","m":1427,"b":2600,"t":3700},{"p":"g","m":1449,"b":2500,"t":6318},{"p":"g","m":1470,"b":2400,"t":3500},{"p":"g","m":1491,"b":2350,"t":5670},{"p":"g","m":1514,"b":2250,"t":3300},{"p":"g","m":1536,"b":2200,"t":4860},{"p":"g","m":1557,"b":2150,"t":3100},{"p":"g","m":1579,"b":2100,"t":4325},{"p":"g","m":1600,"b":2100,"t":2900},{"p":"g","m":1625,"b":2050,"t":4325},{"p":"g","m":1645,"b":2000,"t":2700},{"p":"g","m":1668,"b":1950,"t":3775},{"p":"g","m":1690,"b":1900,"t":2500},{"p":"g","m":1714,"b":1850,"t":3240},{"p":"g","m":1735,"b":1800,"t":2400},{"p":"g","m":1758,"b":1750,"t":3078},{"p":"g","m":1780,"b":1720,"t":2300},{"p":"g","m":1801,"b":1680,"t":2965},{"p":"g","m":1825,"b":1640,"t":2200},{"p":"g","m":1846,"b":1600,"t":2705},{"p":"g","m":1870,"b":1550,"t":2100},{"p":"g","m":1892,"b":1500,"t":2543},{"p":"g","m":1935,"b":1420,"t":2430},{"p":"g","m":1979,"b":1380,"t":2317},{"p":"g","m":2022,"b":1330,"t":2155},{"p":"g","m":2068,"b":1280,"t":2057},{"p":"g","m":2111,"b":1230,"t":1895},{"p":"g","m":2155,"b":1190,"t":1733},{"p":"g","m":2198,"b":1160,"t":1733},{"p":"g","m":2243,"b":1130,"t":1620},{"p":"g","m":2289,"b":1110,"t":1620},{"p":"g","m":2328,"b":1100,"t":1500},{"p":"g","m":2374,"b":1090,"t":1450},{"p":"g","m":2419,"b":1080,"t":1450},{"p":"g","m":2462,"b":1075,"t":1400},{"p":"g","m":2507,"b":1070,"t":1350},{"p":"g","m":2550,"b":1060,"t":1320},{"p":"g","m":2595,"b":1050,"t":1300},{"p":"g","m":2638,"b":1045,"t":1250},{"p":"g","m":2682,"b":1040,"t":1250},{"p":"g","m":2725,"b":1030,"t":1200},{"p":"g","m":2771,"b":1020,"t":1180},{"p":"g","m":2816,"b":1015,"t":1170},{"p":"g","m":2862,"b":1010,"t":1130},{"p":"g","m":2907,"b":1000,"t":1120},{"p":"g","m":2953,"b":990,"t":1100},{"p":"g","m":2999,"b":980,"t":1080},{"p":"g","m":3044,"b":975,"t":1060},{"p":"g","m":3090,"b":970,"t":1050},
{"p":"g","m":1120,"b":1550,"t":2100},{"p":"g","m":1175,"b":2300,"t":2900},{"p":"g","m":1240,"b":2700,"t":3400},{"p":"g","m":1262,"b":2850,"t":3600},{"p":"g","m":1283,"b":3000,"t":3800},{"p":"g","m":1305,"b":3100,"t":3900},{"p":"g","m":1350,"b":2950,"t":3700},{"p":"g","m":1372,"b":2850,"t":3600},{"p":"g","m":1395,"b":2700,"t":3400},{"p":"g","m":1415,"b":2700,"t":3300},{"p":"g","m":1438,"b":2450,"t":3100},{"p":"g","m":1460,"b":2550,"t":3200},{"p":"g","m":1480,"b":2300,"t":2900},{"p":"g","m":1502,"b":2400,"t":3000},{"p":"g","m":1525,"b":2150,"t":2800},{"p":"g","m":1547,"b":2250,"t":2800},{"p":"g","m":1568,"b":2050,"t":2600}
],
"ann": [
{"p":"a","m":1664,"i":3159,"t":"44 Da","k":"main"},{"p":"a","m":2186,"i":3528,"t":"[PVP","k":"main"},{"p":"a","m":2508,"i":3264,"t":"20","k":"sub"},{"p":"a","m":2674,"i":3528,"t":"+ Na]","k":"main"},{"p":"a","m":3064,"i":3949,"t":"+","k":"sup"},{"p":"a","m":2994,"i":1527,"t":"111 Da","k":"main"},{"p":"a","m":5591,"i":2385,"t":"a)","k":"lab"},
{"p":"b","m":1658,"i":2946,"t":"44 Da","k":"main"},{"p":"b","m":5617,"i":2683,"t":"b)","k":"lab"},
{"p":"c","m":2563,"i":1314,"t":"111 Da","k":"main"},{"p":"c","m":6154,"i":972,"t":"111 Da","k":"main"},{"p":"c","m":7500,"i":1584,"t":"c)","k":"lab"},
{"p":"d","m":2625,"i":1548,"t":"111 Da","k":"main"},{"p":"d","m":6174,"i":1056,"t":"111 Da","k":"main"},{"p":"d","m":7492,"i":1481,"t":"d)","k":"lab"},
{"p":"e","m":1445,"i":2358,"t":"44 Da","k":"main"},{"p":"e","m":3750,"i":1958,"t":"e)","k":"lab"},
{"p":"f","m":1445,"i":7718,"t":"44 Da","k":"main"},{"p":"f","m":3760,"i":6335,"t":"f)","k":"lab"},
{"p":"g","m":1452,"i":7452,"t":"44 Da","k":"main"},{"p":"g","m":3756,"i":7290,"t":"g)","k":"lab"}
],
"br": [
{"p":"a","g":"a1","o":1,"m":1572,"i":2827},{"p":"a","g":"a1","o":2,"m":1572,"i":3385},{"p":"a","g":"a1","o":3,"m":1623,"i":3385},{"p":"a","g":"a1","o":4,"m":1623,"i":2827},
{"p":"a","g":"a2","o":1,"m":2857,"i":1369},{"p":"a","g":"a2","o":2,"m":2857,"i":1860},{"p":"a","g":"a2","o":3,"m":2969,"i":1860},{"p":"a","g":"a2","o":4,"m":2969,"i":1369},
{"p":"a","g":"a3","o":1,"m":2301,"i":2300},{"p":"a","g":"a3","o":2,"m":2301,"i":2827},
{"p":"b","g":"b1","o":1,"m":1578,"i":3120},{"p":"b","g":"b1","o":2,"m":1578,"i":3645},{"p":"b","g":"b1","o":3,"m":1623,"i":3645},{"p":"b","g":"b1","o":4,"m":1623,"i":3120},
{"p":"c","g":"c1","o":1,"m":2409,"i":1222},{"p":"c","g":"c1","o":2,"m":2409,"i":1556},{"p":"c","g":"c1","o":3,"m":2521,"i":1556},{"p":"c","g":"c1","o":4,"m":2521,"i":1222},
{"p":"c","g":"c2","o":1,"m":5971,"i":722},{"p":"c","g":"c2","o":2,"m":5971,"i":1028},{"p":"c","g":"c2","o":3,"m":6084,"i":1028},{"p":"c","g":"c2","o":4,"m":6084,"i":722},
{"p":"d","g":"d1","o":1,"m":2409,"i":1520},{"p":"d","g":"d1","o":2,"m":2409,"i":1826},{"p":"d","g":"d1","o":3,"m":2531,"i":1826},{"p":"d","g":"d1","o":4,"m":2531,"i":1520},
{"p":"d","g":"d2","o":1,"m":5966,"i":897},{"p":"d","g":"d2","o":2,"m":5966,"i":1242},{"p":"d","g":"d2","o":3,"m":6088,"i":1242},{"p":"d","g":"d2","o":4,"m":6088,"i":897},
{"p":"e","g":"e1","o":1,"m":1358,"i":1924},{"p":"e","g":"e1","o":2,"m":1358,"i":2552},{"p":"e","g":"e1","o":3,"m":1404,"i":2552},{"p":"e","g":"e1","o":4,"m":1404,"i":1924},
{"p":"f","g":"f1","o":1,"m":1358,"i":7835},{"p":"f","g":"f1","o":2,"m":1358,"i":9336},{"p":"f","g":"f1","o":3,"m":1406,"i":9336},{"p":"f","g":"f1","o":4,"m":1406,"i":7835},
{"p":"g","g":"g1","o":1,"m":1358,"i":7825},{"p":"g","g":"g1","o":2,"m":1358,"i":9445},{"p":"g","g":"g1","o":3,"m":1406,"i":9445},{"p":"g","g":"g1","o":4,"m":1406,"i":7825}
]
},
"vconcat": [
{
 "width": 768, "height": 49,
 "resolve": {"axis": {"x": "independent", "y": "independent"}},
 "layer": [
  {"data": {"name": "base"}, "transform": [{"filter": "datum.p === 'a'"}], "mark": {"type": "line", "color": "black", "strokeWidth": 2.1},
   "encoding": {
    "x": {"field": "m", "type": "quantitative", "scale": {"domain": [1500, 6000], "nice": false, "zero": false}, "axis": {"orient": "bottom", "title": null, "values": [1500, 3000, 4500, 6000], "labels": false, "tickSize": 10}},
    "y": {"field": "i", "type": "quantitative", "scale": {"domain": [0, 2580], "nice": false, "zero": false}, "axis": {"orient": "left", "title": null, "values": [1000, 2000], "labelPadding": 8, "tickSize": 10}}
   }},
  {"data": {"name": "peaks"}, "transform": [{"filter": "datum.p === 'a'"}], "mark": {"type": "rule", "color": "black", "strokeWidth": 1.5},
   "encoding": {
    "x": {"field": "m", "type": "quantitative", "axis": {"orient": "bottom", "title": null, "values": [2250, 3750, 5250], "labels": false, "domain": false, "tickSize": 5}},
    "y": {"field": "b", "type": "quantitative", "axis": {"orient": "left", "title": null, "values": [500, 1500, 2500], "labels": false, "domain": false, "tickSize": 5}},
    "y2": {"field": "t"}}},
  {"data": {"name": "br"}, "transform": [{"filter": "datum.p === 'a'"}], "mark": {"type": "line", "color": "black", "strokeWidth": 1.6},
   "encoding": {"x": {"field": "m", "type": "quantitative", "axis": null}, "y": {"field": "i", "type": "quantitative", "axis": null}, "detail": {"field": "g"}, "order": {"field": "o"}}},
  {"data": {"name": "ann"}, "transform": [{"filter": "datum.p === 'a' && datum.k === 'main'"}], "mark": {"type": "text", "align": "left", "baseline": "alphabetic", "fontSize": 23},
   "encoding": {"x": {"field": "m", "type": "quantitative", "axis": null}, "y": {"field": "i", "type": "quantitative", "axis": null}, "text": {"field": "t"}}},
  {"data": {"name": "ann"}, "transform": [{"filter": "datum.p === 'a' && datum.k === 'sub'"}], "mark": {"type": "text", "align": "left", "baseline": "alphabetic", "fontSize": 14},
   "encoding": {"x": {"field": "m", "type": "quantitative", "axis": null}, "y": {"field": "i", "type": "quantitative", "axis": null}, "text": {"field": "t"}}},
  {"data": {"name": "ann"}, "transform": [{"filter": "datum.p === 'a' && datum.k === 'sup'"}], "mark": {"type": "text", "align": "left", "baseline": "alphabetic", "fontSize": 13},
   "encoding": {"x": {"field": "m", "type": "quantitative", "axis": null}, "y": {"field": "i", "type": "quantitative", "axis": null}, "text": {"field": "t"}}},
  {"data": {"name": "ann"}, "transform": [{"filter": "datum.p === 'a' && datum.k === 'lab'"}], "mark": {"type": "text", "align": "left", "baseline": "alphabetic", "fontSize": 26},
   "encoding": {"x": {"field": "m", "type": "quantitative", "axis": null}, "y": {"field": "i", "type": "quantitative", "axis": null}, "text": {"field": "t"}}}
 ]
},
{
 "width": 768, "height": 50,
 "resolve": {"axis": {"x": "independent", "y": "independent"}},
 "layer": [
  {"data": {"name": "base"}, "transform": [{"filter": "datum.p === 'b'"}], "mark": {"type": "line", "color": "black", "strokeWidth": 2.1},
   "encoding": {
    "x": {"field": "m", "type": "quantitative", "scale": {"domain": [1500, 6000], "nice": false, "zero": false}, "axis": {"orient": "bottom", "title": null, "values": [1500, 3000, 4500, 6000], "labelPadding": 7, "tickSize": 10}},
    "y": {"field": "i", "type": "quantitative", "scale": {"domain": [0, 2630], "nice": false, "zero": false}, "axis": {"orient": "left", "title": null, "values": [1000, 2000], "labelPadding": 8, "tickSize": 10}}
   }},
  {"data": {"name": "peaks"}, "transform": [{"filter": "datum.p === 'b'"}], "mark": {"type": "rule", "color": "black", "strokeWidth": 1.5},
   "encoding": {
    "x": {"field": "m", "type": "quantitative", "axis": {"orient": "bottom", "title": null, "values": [2250, 3750, 5250], "labels": false, "domain": false, "tickSize": 5}},
    "y": {"field": "b", "type": "quantitative", "axis": {"orient": "left", "title": null, "values": [500, 1500, 2500], "labels": false, "domain": false, "tickSize": 5}},
    "y2": {"field": "t"}}},
  {"data": {"name": "br"}, "transform": [{"filter": "datum.p === 'b'"}], "mark": {"type": "line", "color": "black", "strokeWidth": 1.6},
   "encoding": {"x": {"field": "m", "type": "quantitative", "axis": null}, "y": {"field": "i", "type": "quantitative", "axis": null}, "detail": {"field": "g"}, "order": {"field": "o"}}},
  {"data": {"name": "ann"}, "transform": [{"filter": "datum.p === 'b' && datum.k === 'main'"}], "mark": {"type": "text", "align": "left", "baseline": "alphabetic", "fontSize": 23},
   "encoding": {"x": {"field": "m", "type": "quantitative", "axis": null}, "y": {"field": "i", "type": "quantitative", "axis": null}, "text": {"field": "t"}}},
  {"data": {"name": "ann"}, "transform": [{"filter": "datum.p === 'b' && datum.k === 'lab'"}], "mark": {"type": "text", "align": "left", "baseline": "alphabetic", "fontSize": 26},
   "encoding": {"x": {"field": "m", "type": "quantitative", "axis": null}, "y": {"field": "i", "type": "quantitative", "axis": null}, "text": {"field": "t"}}}
 ]
},
{
 "width": 768, "height": 48,
 "resolve": {"axis": {"x": "independent", "y": "independent"}},
 "layer": [
  {"data": {"name": "base"}, "transform": [{"filter": "datum.p === 'c'"}], "mark": {"type": "line", "color": "black", "strokeWidth": 1.9},
   "encoding": {
    "x": {"field": "m", "type": "quantitative", "scale": {"domain": [2000, 8000], "nice": false, "zero": false}, "axis": {"orient": "bottom", "title": null, "values": [2000, 4000, 6000, 8000], "labels": false, "tickSize": 10}},
    "y": {"field": "i", "type": "quantitative", "scale": {"domain": [166, 1500], "nice": false, "zero": false}, "axis": {"orient": "left", "title": null, "values": [1000], "labelPadding": 8, "tickSize": 10}}
   }},
  {"data": {"name": "peaks"}, "transform": [{"filter": "datum.p === 'c'"}], "mark": {"type": "rule", "color": "black", "strokeWidth": 1.5},
   "encoding": {
    "x": {"field": "m", "type": "quantitative", "axis": {"orient": "bottom", "title": null, "values": [3000, 5000, 7000], "labels": false, "domain": false, "tickSize": 5}},
    "y": {"field": "b", "type": "quantitative", "axis": {"orient": "left", "title": null, "values": [500, 1500], "labels": false, "domain": false, "tickSize": 5}},
    "y2": {"field": "t"}}},
  {"data": {"name": "br"}, "transform": [{"filter": "datum.p === 'c'"}], "mark": {"type": "line", "color": "black", "strokeWidth": 1.6},
   "encoding": {"x": {"field": "m", "type": "quantitative", "axis": null}, "y": {"field": "i", "type": "quantitative", "axis": null}, "detail": {"field": "g"}, "order": {"field": "o"}}},
  {"data": {"name": "ann"}, "transform": [{"filter": "datum.p === 'c' && datum.k === 'main'"}], "mark": {"type": "text", "align": "left", "baseline": "alphabetic", "fontSize": 23},
   "encoding": {"x": {"field": "m", "type": "quantitative", "axis": null}, "y": {"field": "i", "type": "quantitative", "axis": null}, "text": {"field": "t"}}},
  {"data": {"name": "ann"}, "transform": [{"filter": "datum.p === 'c' && datum.k === 'lab'"}], "mark": {"type": "text", "align": "left", "baseline": "alphabetic", "fontSize": 26},
   "encoding": {"x": {"field": "m", "type": "quantitative", "axis": null}, "y": {"field": "i", "type": "quantitative", "axis": null}, "text": {"field": "t"}}}
 ]
},
{
 "width": 768, "height": 50,
 "resolve": {"axis": {"x": "independent", "y": "independent"}},
 "layer": [
  {"data": {"name": "base"}, "transform": [{"filter": "datum.p === 'd'"}], "mark": {"type": "line", "color": "black", "strokeWidth": 1.9},
   "encoding": {
    "x": {"field": "m", "type": "quantitative", "scale": {"domain": [2000, 8000], "nice": false, "zero": false}, "axis": {"orient": "bottom", "title": null, "values": [2000, 4000, 6000, 8000], "labelPadding": 9, "tickSize": 10}},
    "y": {"field": "i", "type": "quantitative", "scale": {"domain": [194, 1584], "nice": false, "zero": false}, "axis": {"orient": "left", "values": [1000], "labelPadding": 8, "tickSize": 10, "title": "a.i.", "titleFontSize": 28, "titleAngle": -90, "titleX": -82, "titleY": 31, "titleAlign": "center", "titleBaseline": "alphabetic"}}
   }},
  {"data": {"name": "peaks"}, "transform": [{"filter": "datum.p === 'd'"}], "mark": {"type": "rule", "color": "black", "strokeWidth": 1.5},
   "encoding": {
    "x": {"field": "m", "type": "quantitative", "axis": {"orient": "bottom", "title": null, "values": [3000, 5000, 7000], "labels": false, "domain": false, "tickSize": 5}},
    "y": {"field": "b", "type": "quantitative", "axis": {"orient": "left", "title": null, "values": [500, 1500], "labels": false, "domain": false, "tickSize": 5}},
    "y2": {"field": "t"}}},
  {"data": {"name": "br"}, "transform": [{"filter": "datum.p === 'd'"}], "mark": {"type": "line", "color": "black", "strokeWidth": 1.6},
   "encoding": {"x": {"field": "m", "type": "quantitative", "axis": null}, "y": {"field": "i", "type": "quantitative", "axis": null}, "detail": {"field": "g"}, "order": {"field": "o"}}},
  {"data": {"name": "ann"}, "transform": [{"filter": "datum.p === 'd' && datum.k === 'main'"}], "mark": {"type": "text", "align": "left", "baseline": "alphabetic", "fontSize": 23},
   "encoding": {"x": {"field": "m", "type": "quantitative", "axis": null}, "y": {"field": "i", "type": "quantitative", "axis": null}, "text": {"field": "t"}}},
  {"data": {"name": "ann"}, "transform": [{"filter": "datum.p === 'd' && datum.k === 'lab'"}], "mark": {"type": "text", "align": "left", "baseline": "alphabetic", "fontSize": 26},
   "encoding": {"x": {"field": "m", "type": "quantitative", "axis": null}, "y": {"field": "i", "type": "quantitative", "axis": null}, "text": {"field": "t"}}}
 ]
},
{
 "width": 768, "height": 50,
 "resolve": {"axis": {"x": "independent", "y": "independent"}},
 "layer": [
  {"data": {"name": "base"}, "transform": [{"filter": "datum.p === 'e'"}], "mark": {"type": "line", "color": "black", "strokeWidth": 1.9},
   "encoding": {
    "x": {"field": "m", "type": "quantitative", "scale": {"domain": [1000, 4000], "nice": false, "zero": false}, "axis": {"orient": "bottom", "title": null, "values": [1000, 2000, 3000, 4000], "labels": false, "tickSize": 10}},
    "y": {"field": "i", "type": "quantitative", "scale": {"domain": [-229, 2627], "nice": false, "zero": false}, "axis": {"orient": "left", "title": null, "values": [0, 1000, 2000], "labelPadding": 8, "tickSize": 10, "labelFontSize": 15.5}}
   }},
  {"data": {"name": "peaks"}, "transform": [{"filter": "datum.p === 'e'"}], "mark": {"type": "rule", "color": "black", "strokeWidth": 1.5},
   "encoding": {
    "x": {"field": "m", "type": "quantitative", "axis": {"orient": "bottom", "title": null, "values": [1500, 2500, 3500], "labels": false, "domain": false, "tickSize": 5}},
    "y": {"field": "b", "type": "quantitative", "axis": {"orient": "left", "title": null, "values": [500, 1500, 2500], "labels": false, "domain": false, "tickSize": 5}},
    "y2": {"field": "t"}}},
  {"data": {"name": "br"}, "transform": [{"filter": "datum.p === 'e'"}], "mark": {"type": "line", "color": "black", "strokeWidth": 1.6},
   "encoding": {"x": {"field": "m", "type": "quantitative", "axis": null}, "y": {"field": "i", "type": "quantitative", "axis": null}, "detail": {"field": "g"}, "order": {"field": "o"}}},
  {"data": {"name": "ann"}, "transform": [{"filter": "datum.p === 'e' && datum.k === 'main'"}], "mark": {"type": "text", "align": "left", "baseline": "alphabetic", "fontSize": 23},
   "encoding": {"x": {"field": "m", "type": "quantitative", "axis": null}, "y": {"field": "i", "type": "quantitative", "axis": null}, "text": {"field": "t"}}},
  {"data": {"name": "ann"}, "transform": [{"filter": "datum.p === 'e' && datum.k === 'lab'"}], "mark": {"type": "text", "align": "left", "baseline": "alphabetic", "fontSize": 26},
   "encoding": {"x": {"field": "m", "type": "quantitative", "axis": null}, "y": {"field": "i", "type": "quantitative", "axis": null}, "text": {"field": "t"}}}
 ]
},
{
 "width": 768, "height": 49,
 "resolve": {"axis": {"x": "independent", "y": "independent"}},
 "layer": [
  {"data": {"name": "base"}, "transform": [{"filter": "datum.p === 'f'"}], "mark": {"type": "line", "color": "black", "strokeWidth": 1.9},
   "encoding": {
    "x": {"field": "m", "type": "quantitative", "scale": {"domain": [1000, 4000], "nice": false, "zero": false}, "axis": {"orient": "bottom", "title": null, "values": [1000, 2000, 3000, 4000], "labels": false, "tickSize": 10}},
    "y": {"field": "i", "type": "quantitative", "scale": {"domain": [-333, 7835], "nice": false, "zero": false}, "axis": {"orient": "left", "title": null, "values": [0, 3000, 6000], "labelPadding": 8, "tickSize": 10, "labelFontSize": 15.5}}
   }},
  {"data": {"name": "peaks"}, "transform": [{"filter": "datum.p === 'f'"}], "mark": {"type": "rule", "color": "black", "strokeWidth": 1.5},
   "encoding": {
    "x": {"field": "m", "type": "quantitative", "axis": {"orient": "bottom", "title": null, "values": [1500, 2500, 3500], "labels": false, "domain": false, "tickSize": 5}},
    "y": {"field": "b", "type": "quantitative", "axis": {"orient": "left", "title": null, "values": [1500, 4500, 7500], "labels": false, "domain": false, "tickSize": 5}},
    "y2": {"field": "t"}}},
  {"data": {"name": "br"}, "transform": [{"filter": "datum.p === 'f'"}], "mark": {"type": "line", "color": "black", "strokeWidth": 1.6},
   "encoding": {"x": {"field": "m", "type": "quantitative", "axis": null}, "y": {"field": "i", "type": "quantitative", "axis": null}, "detail": {"field": "g"}, "order": {"field": "o"}}},
  {"data": {"name": "ann"}, "transform": [{"filter": "datum.p === 'f' && datum.k === 'main'"}], "mark": {"type": "text", "align": "left", "baseline": "alphabetic", "fontSize": 23},
   "encoding": {"x": {"field": "m", "type": "quantitative", "axis": null}, "y": {"field": "i", "type": "quantitative", "axis": null}, "text": {"field": "t"}}},
  {"data": {"name": "ann"}, "transform": [{"filter": "datum.p === 'f' && datum.k === 'lab'"}], "mark": {"type": "text", "align": "left", "baseline": "alphabetic", "fontSize": 26},
   "encoding": {"x": {"field": "m", "type": "quantitative", "axis": null}, "y": {"field": "i", "type": "quantitative", "axis": null}, "text": {"field": "t"}}}
 ]
},
{
 "width": 768, "height": 50,
 "resolve": {"axis": {"x": "independent", "y": "independent"}},
 "layer": [
  {"data": {"name": "base"}, "transform": [{"filter": "datum.p === 'g'"}], "mark": {"type": "line", "color": "black", "strokeWidth": 1.9},
   "encoding": {
    "x": {"field": "m", "type": "quantitative", "scale": {"domain": [1000, 4000], "nice": false, "zero": false}, "axis": {"orient": "bottom", "values": [1000, 2000, 3000, 4000], "labelPadding": 8, "tickSize": 10, "title": "m/z", "titleFontSize": 28, "titleY": 72, "titleBaseline": "alphabetic"}},
    "y": {"field": "i", "type": "quantitative", "scale": {"domain": [-486, 7614], "nice": false, "zero": false}, "axis": {"orient": "left", "title": null, "values": [0, 3000, 6000], "labelPadding": 8, "tickSize": 10, "labelFontSize": 15.5}}
   }},
  {"data": {"name": "peaks"}, "transform": [{"filter": "datum.p === 'g'"}], "mark": {"type": "rule", "color": "black", "strokeWidth": 1.5},
   "encoding": {
    "x": {"field": "m", "type": "quantitative", "axis": {"orient": "bottom", "title": null, "values": [1500, 2500, 3500], "labels": false, "domain": false, "tickSize": 5}},
    "y": {"field": "b", "type": "quantitative", "axis": {"orient": "left", "title": null, "values": [1500, 4500, 7500], "labels": false, "domain": false, "tickSize": 5}},
    "y2": {"field": "t"}}},
  {"data": {"name": "br"}, "transform": [{"filter": "datum.p === 'g'"}], "mark": {"type": "line", "color": "black", "strokeWidth": 1.6},
   "encoding": {"x": {"field": "m", "type": "quantitative", "axis": null}, "y": {"field": "i", "type": "quantitative", "axis": null}, "detail": {"field": "g"}, "order": {"field": "o"}}},
  {"data": {"name": "ann"}, "transform": [{"filter": "datum.p === 'g' && datum.k === 'main'"}], "mark": {"type": "text", "align": "left", "baseline": "alphabetic", "fontSize": 23},
   "encoding": {"x": {"field": "m", "type": "quantitative", "axis": null}, "y": {"field": "i", "type": "quantitative", "axis": null}, "text": {"field": "t"}}},
  {"data": {"name": "ann"}, "transform": [{"filter": "datum.p === 'g' && datum.k === 'lab'"}], "mark": {"type": "text", "align": "left", "baseline": "alphabetic", "fontSize": 26},
   "encoding": {"x": {"field": "m", "type": "quantitative", "axis": null}, "y": {"field": "i", "type": "quantitative", "axis": null}, "text": {"field": "t"}}}
 ]
}
]
}
